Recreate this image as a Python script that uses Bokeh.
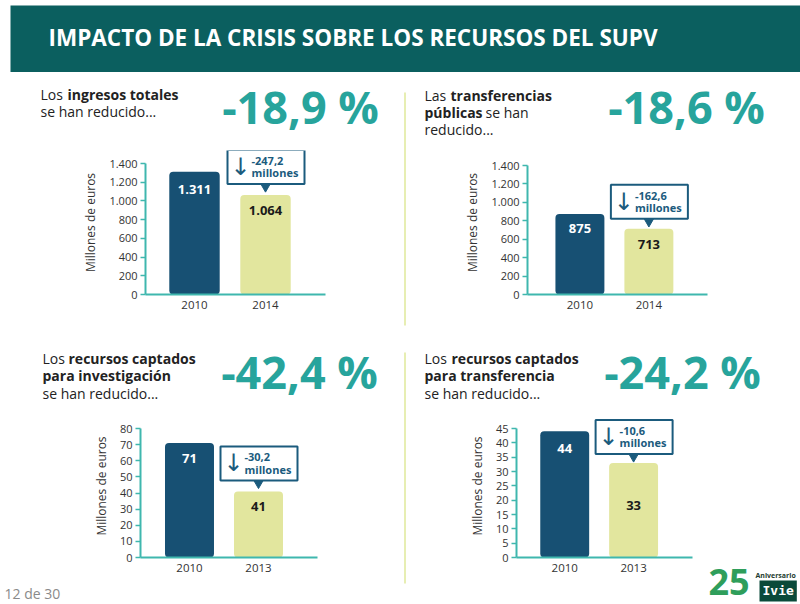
from bokeh.plotting import figure
from bokeh.layouts import column, row
from bokeh.models import Range1d, Label, ColumnDataSource, FixedTicker, LinearAxis
from bokeh.core.properties import value
from bokeh.embed import file_html
from bokeh.resources import INLINE

# ---------------- data ----------------
title_text = "IMPACTO DE LA CRISIS SOBRE LOS RECURSOS DEL SUPV"
years_a = ["2010", "2014"]
years_b = ["2010", "2013"]
ingresos_totales = [1311, 1064]
transferencias_publicas = [875, 713]
recursos_investigacion = [71, 41]
recursos_transferencia = [44, 33]
reduccion_millones = [-247.2, -162.6, -30.2, -10.6]
reduccion_pct = [-18.9, -18.6, -42.4, -24.2]
ticks_millones = [0, 200, 400, 600, 800, 1000, 1200, 1400]
ticks_investigacion = [0, 10, 20, 30, 40, 50, 60, 70, 80]
ticks_transferencia = [0, 5, 10, 15, 20, 25, 30, 35, 40, 45]
axis_title = "Millones de euros"
page_text = "12 de 30"

# ---------------- style ----------------
FONT = "Open Sans"
HEADER = "#0b5f5f"
DARK_BAR = "#175073"
LIGHT_BAR = "#e2e69e"
AXIS = "#3fb7ae"
PCT = "#27a49c"
CALLOUT = "#1b5b7d"
DIVIDER = "#e7eeb3"
TXT = "#222222"


def es_int(v):
    return f"{v:,}".replace(",", ".")


def es_dec(v):
    return f"{v:.1f}".replace(".", ",")


def base_fig(w, h, **kw):
    p = figure(width=w, height=h, toolbar_location=None, output_backend="svg",
               x_axis_type=None, y_axis_type=None, **kw)
    p.outline_line_color = None
    p.grid.visible = False
    p.background_fill_color = "white"
    p.border_fill_color = "white"
    return p


def pixel_fig(ox, oy, w, h):
    """A figure whose data units are page pixels (x to the right, y upward)."""
    p = base_fig(w, h, x_range=Range1d(0, w), y_range=Range1d(0, h), min_border=0)

    def put(X, Y, text, **kw):
        size = float(kw.get("text_font_size", "14px").replace("px", ""))
        Yb = Y - 0.35 * size  # baseline correction
        p.add_layout(Label(x=X - ox, y=h - (Yb - oy), text=text,
                           text_baseline="alphabetic", **kw))
    return p, put


def wrap(f):
    # own container, so that its frame is not aligned with a neighbouring chart
    return column(f)


# ---------------- header ----------------
header, put_h = pixel_fig(0, 0, 800, 72)
header.quad(left=10, right=800, bottom=0, top=67, fill_color=HEADER, line_color=None)
put_h(48, 45, title_text, text_color="white", text_font=FONT,
      text_font_style="bold", text_font_size="22.5px")


def vdiv(oy, h, y0, y1):
    p, _ = pixel_fig(395, oy, 20, h)
    p.quad(left=8.5, right=10.5, bottom=h - (y1 - oy), top=h - (y0 - oy),
           fill_color=DIVIDER, line_color=None)
    return p


hdiv, _ = pixel_fig(0, 330, 800, 6)
hdiv.quad(left=32, right=780, bottom=0, top=2.5, fill_color=DIVIDER, line_color=None)


def text_panel(ox, oy, w, h, desc, pct, pct_pos):
    p, put = pixel_fig(ox, oy, w, h)
    for (X, Y, t, bold) in desc:
        put(X, Y, t, text_font=FONT, text_font_size="14px", text_color=TXT,
            text_font_style="bold" if bold else "normal")
    put(pct_pos[0], pct_pos[1], f"{es_dec(pct)} %", text_align="center",
        text_font=FONT, text_font_style="bold", text_font_size="45px", text_color=PCT)
    return p


def chart(ox, oy, w, h, left_px, right_px, axis_top_px, bottom_px, xr, ymax, yticks,
          cats, vals, change, label_dy, gap):
    fl = left_px - ox
    fr = w - (right_px - ox)
    frame_h = bottom_px - oy
    fb = h - frame_h
    y_end = ymax * frame_h / (bottom_px - axis_top_px)
    p = base_fig(w, h, x_range=Range1d(*xr), y_range=Range1d(0, y_end),
                 min_border_left=fl, min_border_right=fr,
                 min_border_top=0, min_border_bottom=fb)
    yax = LinearAxis(ticker=FixedTicker(ticks=yticks), bounds=(0, ymax),
                     major_label_overrides={t: es_int(t) for t in yticks})
    xax = LinearAxis(ticker=FixedTicker(ticks=[0, 1]),
                     major_label_overrides={0: cats[0], 1: cats[1]})
    p.add_layout(yax, "left")
    p.add_layout(xax, "below")

    yax.axis_label = axis_title
    yax.axis_label_text_font = FONT
    yax.axis_label_text_font_size = "12px"
    yax.axis_label_text_font_style = "normal"
    yax.axis_label_text_color = "#333333"
    yax.axis_label_standoff = 7
    yax.major_label_text_font = FONT
    yax.major_label_text_font_size = "11px"
    yax.major_label_text_color = "#333333"
    yax.major_label_standoff = 3
    yax.axis_line_color = AXIS
    yax.axis_line_width = 2
    yax.major_tick_line_color = AXIS
    yax.major_tick_line_width = 1.5
    yax.major_tick_out = 5
    yax.major_tick_in = 0
    yax.minor_tick_line_color = None

    xax.major_label_text_font = FONT
    xax.major_label_text_font_size = "11.5px"
    xax.major_label_text_color = "#333333"
    xax.major_label_standoff = 6
    xax.axis_line_color = AXIS
    xax.axis_line_width = 2
    xax.major_tick_line_color = None
    xax.major_tick_out = 0
    xax.major_tick_in = 0
    xax.minor_tick_line_color = None

    src = ColumnDataSource(dict(
        x=[0, 1], top=vals, color=[DARK_BAR, LIGHT_BAR],
        label=[es_int(v) for v in vals], label_color=["white", "#1a1a1a"],
        dy=label_dy,
    ))
    p.vbar(x="x", top="top", width=0.71, fill_color="color", line_color=None,
           border_radius=4, source=src)
    p.text(x="x", y="top", text="label", text_color="label_color", source=src,
           text_align="center", text_baseline="middle", y_offset="dy",
           text_font=value(FONT), text_font_style="bold", text_font_size="13px")

    # callout box above the second bar
    ppx = (right_px - left_px) / (xr[1] - xr[0])
    ppy = frame_h / y_end
    v = vals[1]
    p.quad(left=1 - 38 / ppx, right=1 + 39 / ppx, bottom=v + gap / ppy,
           top=v + (gap + 34) / ppy, fill_color="white", line_color=CALLOUT, line_width=2)
    p.scatter(x=[1], y=[v + (gap - 3) / ppy], marker="inverted_triangle", size=9,
              fill_color=CALLOUT, line_color=CALLOUT)
    csrc = ColumnDataSource(dict(x=[1, 1], y=[v, v],
                                 text=[es_dec(change), "millones"],
                                 dy=[-(gap + 23), -(gap + 11)]))
    p.text(x="x", y="y", text="text", source=csrc, x_offset=-14, y_offset="dy",
           text_align="left", text_baseline="middle", text_color=CALLOUT,
           text_font=value(FONT), text_font_style="bold", text_font_size="11px")
    p.text(x=[1], y=[v], text=["\u2193"], x_offset=-25, y_offset=-(gap + 17),
           text_align="center", text_baseline="middle", text_color=CALLOUT,
           text_font=value("DejaVu Sans"), text_font_size="24px")
    return p


# ---------------- top row (y 72..330) ----------------
t1 = text_panel(0, 72, 395, 78,
                [(40, 99, "Los ", False), (67, 99, "ingresos totales", True),
                 (40, 116, "se han reducido...", False)],
                reduccion_pct[0], (300, 122))
c1 = chart(0, 150, 395, 180, 145, 325, 163, 294, (-0.69, 1.845), 1400, ticks_millones,
           years_a, ingresos_totales, reduccion_millones[0], [18, 16], 11)

t2 = text_panel(415, 72, 385, 78,
                [(424, 100, "Las ", False), (450, 100, "transferencias", True),
                 (424, 117, "públicas", True), (485, 117, "se han", False),
                 (424, 134, "reducido...", False)],
                reduccion_pct[1], (686, 122))
c2 = chart(415, 150, 385, 180, 527, 707, 165, 294, (-0.76, 1.85), 1400, ticks_millones,
           years_a, transferencias_publicas, reduccion_millones[1], [15, 16], 10)

# ---------------- bottom row (y 336..604) ----------------
t3 = text_panel(0, 336, 395, 78,
                [(42, 363, "Los ", False), (68, 363, "recursos captados", True),
                 (42, 380, "para investigación", True),
                 (42, 398, "se han reducido...", False)],
                reduccion_pct[2], (299, 387))
c3 = chart(0, 414, 395, 170, 140, 317, 428, 557, (-0.71, 1.855), 80, ticks_investigacion,
           years_b, recursos_investigacion, reduccion_millones[2], [15, 15], 11)
foot, put_f = pixel_fig(0, 584, 395, 20)
put_f(4, 598, page_text, text_font=FONT, text_font_size="14px", text_color="#8a8a8a")

t4 = text_panel(415, 336, 385, 78,
                [(424, 363, "Los ", False), (451, 363, "recursos captados", True),
                 (424, 380, "para transferencia", True),
                 (424, 398, "se han reducido...", False)],
                reduccion_pct[3], (682, 387))
c4 = chart(415, 414, 285, 190, 516, 692, 428, 557, (-0.70, 1.855), 45, ticks_transferencia,
           years_b, recursos_transferencia, reduccion_millones[3], [17, 43], 9)

logo, put_l = pixel_fig(700, 414, 100, 190)
put_l(708, 594, "25", text_font=FONT, text_font_style="bold", text_font_size="36px",
      text_color="#2f9e5b")
put_l(755, 577, "Aniversario", text_font=FONT, text_font_style="bold", text_font_size="7px",
      text_color="#1d3b2f")
put_l(759, 595, "Ivie", text_font="DejaVu Sans Mono", text_font_style="bold",
      text_font_size="13px", text_color="white", background_fill_color="#0b4a3a", padding=3)

layout = column(
    header,
    row(column(wrap(t1), c1), vdiv(72, 258, 92, 325), column(wrap(t2), c2)),
    hdiv,
    row(column(wrap(t3), c3, wrap(foot)), vdiv(336, 268, 352, 583),
        column(wrap(t4), row(c4, wrap(logo)))),
)

open("out.html", "w").write(file_html(layout, INLINE, title="SUPV"))
